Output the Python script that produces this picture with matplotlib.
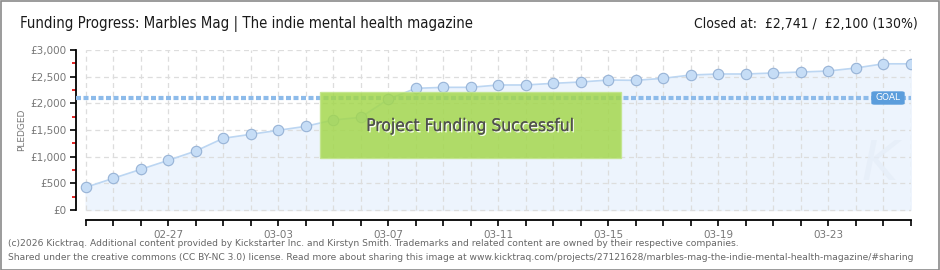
import matplotlib
matplotlib.use("Agg")
import matplotlib.pyplot as plt
import matplotlib.patches as mpatches
import matplotlib.patheffects as pe
from matplotlib import font_manager
import datetime as dt

# ---- data ----
start_date = "2026-02-24"
pledged = [425, 594, 762, 931, 1106, 1344, 1419, 1494, 1569, 1687, 1737, 2075,
           2281, 2300, 2300, 2344, 2344, 2375, 2400, 2437, 2431, 2469, 2531,
           2550, 2550, 2569, 2587, 2606, 2662, 2741, 2741]
goal = 2100
closed_text = "Closed at:  £2,741 /  £2,100 (130%)"
title = "Funding Progress: Marbles Mag | The indie mental health magazine"
y_ticks = [0, 500, 1000, 1500, 2000, 2500, 3000]
y_labels = ["£0", "£500", "£1,000", "£1,500", "£2,000", "£2,500", "£3,000"]
label_every = 4
label_offset = 3
footer1 = ("(c)2026 Kicktraq. Additional content provided by Kickstarter Inc. and Kirstyn Smith. "
           "Trademarks and related content are owned by their respective companies.")
footer2 = ("Shared under the creative commons (CC BY-NC 3.0) license. Read more about sharing this image at "
           "www.kicktraq.com/projects/27121628/marbles-mag-the-indie-mental-health-magazine/#sharing")

# find a condensed / narrow font file if present
cond_file = None
cands = sorted(font_manager.findSystemFonts())
for pref in ["LiberationSansNarrow-Regular", "DejaVuSansCondensed.ttf", "RobotoCondensed-Regular",
             "Condensed-Regular", "Narrow"]:
    for f in cands:
        if pref in f.split("/")[-1] and "Bold" not in f and "Oblique" not in f and "Italic" not in f:
            cond_file = f
            break
    if cond_file:
        break
if cond_file:
    def fp(size):
        return font_manager.FontProperties(fname=cond_file, size=size)
else:
    def fp(size):
        return font_manager.FontProperties(family="Lato", size=size)

d0 = dt.date.fromisoformat(start_date)
n = len(pledged)
xs = list(range(n))
dates = [(d0 + dt.timedelta(days=i)).strftime("%m-%d") for i in xs]

W, H = 940, 270
fig = plt.figure(figsize=(W / 100, H / 100), dpi=100)
fig.patch.set_facecolor("white")
fig.add_artist(mpatches.Rectangle((0.5 / W, 0.5 / H), 1 - 1.5 / W, 1 - 1.5 / H,
                                  transform=fig.transFigure, fill=False,
                                  edgecolor="#8a8a8a", lw=1.2))

left_px, right_px = 76, 911
top_px, bottom_px = 50, 220
ax = fig.add_axes([left_px / W, (H - bottom_px) / H,
                   (right_px - left_px) / W, (bottom_px - top_px) / H])
xpix0 = 85.7
step = 27.5
ax.set_xlim((left_px - xpix0) / step, (right_px - xpix0) / step)
ax.set_ylim(-3000 * 10 / 160, 3000)
ax.patch.set_alpha(0)

ax.fill_between(xs, pledged, 0, color="#edf4fd", zorder=1)
for yt in y_ticks:
    ax.hlines(yt, 0, n - 1, colors="#dddddd", linestyles=(0, (4, 3)), lw=0.9, zorder=2)
for x in xs:
    ax.vlines(x, 0, 3000, colors="#dddddd", linestyles=(0, (4, 3)), lw=0.9, zorder=2)

ax.plot(xs, pledged, color="#bcd6f2", lw=1.2, zorder=3)
ax.plot(xs, pledged, "o", ms=7.5, mfc="#c6ddf6", mec="#97b3d6", mew=0.8, zorder=4)

ax.hlines(goal, ax.get_xlim()[0], n - 1, colors="#8dbbea", linestyles=(0, (1.2, 0.6)),
          lw=3, zorder=3)

for s in ["top", "right"]:
    ax.spines[s].set_visible(False)
ax.spines["left"].set_bounds(0, 3000)
ax.spines["bottom"].set_bounds(0, n - 1)
ax.spines["left"].set_linewidth(1.3)
ax.spines["bottom"].set_linewidth(1.3)

ax.set_yticks(y_ticks)
ax.set_yticklabels(y_labels, fontsize=7.5, color="#777777")
ax.set_yticks([250 + 500 * i for i in range(6)], minor=True)
ax.tick_params(axis="y", which="major", length=4, width=1.2, color="black", pad=3)
ax.tick_params(axis="y", which="minor", length=3, width=1.2, color="#dd0000")

ax.set_xticks(xs)
ax.set_xticklabels([d if (i - label_offset) % label_every == 0 else "" for i, d in enumerate(dates)],
                   fontsize=7.5, color="#777777")
ax.tick_params(axis="x", which="major", length=4, width=1.2, color="black", pad=3)

fig.text(22 / W, 1 - 130 / H, "PLEDGED", rotation=90, fontsize=6.5, color="#777777",
         ha="center", va="center")

# Success box
bx0, bx1, by0, by1 = 320, 621, 92, 158
fig.add_artist(mpatches.Rectangle((bx0 / W, 1 - by1 / H), (bx1 - bx0) / W, (by1 - by0) / H,
                                  transform=fig.transFigure, facecolor="#a3d74c",
                                  edgecolor="#c2e58a", lw=1, alpha=0.84, zorder=10))
fig.text((bx0 + bx1) / 2 / W, 1 - 126 / H, "Project Funding Successful",
         fontproperties=fp(12.5), color="#505050", ha="center", va="center", zorder=11,
         path_effects=[pe.withSimplePatchShadow(offset=(1, -1), shadow_rgbFace="white", alpha=0.9),
                       pe.Normal()])

# GOAL label
gx0, gx1, gy0, gy1 = 872, 904, 92, 104
fig.add_artist(mpatches.FancyBboxPatch((gx0 / W, 1 - gy1 / H), (gx1 - gx0) / W, (gy1 - gy0) / H,
                                       boxstyle="round,pad=0,rounding_size=0.003",
                                       transform=fig.transFigure, facecolor="#5b9ddc",
                                       edgecolor="#5b9ddc", zorder=10))
fig.text((gx0 + gx1) / 2 / W, 1 - 98 / H, "GOAL", fontsize=6.5, color="white",
         ha="center", va="center", zorder=11)

fig.text(880 / W, 1 - 165 / H, "K", fontsize=40, color="#e6eef8", style="italic",
         ha="center", va="center", zorder=0.5, alpha=0.8)

fig.text(20 / W, 1 - 24 / H, title, fontproperties=fp(10.7), color="#1a1a1a",
         ha="left", va="center")
fig.text(918 / W, 1 - 24 / H, closed_text, fontproperties=fp(10), color="#1a1a1a",
         ha="right", va="center")

fig.text(8 / W, 1 - 243 / H, footer1, fontsize=6.6, color="#666666", ha="left", va="center")
fig.text(8 / W, 1 - 258 / H, footer2, fontsize=6.6, color="#666666", ha="left", va="center")

fig.savefig("out.png", dpi=100)
